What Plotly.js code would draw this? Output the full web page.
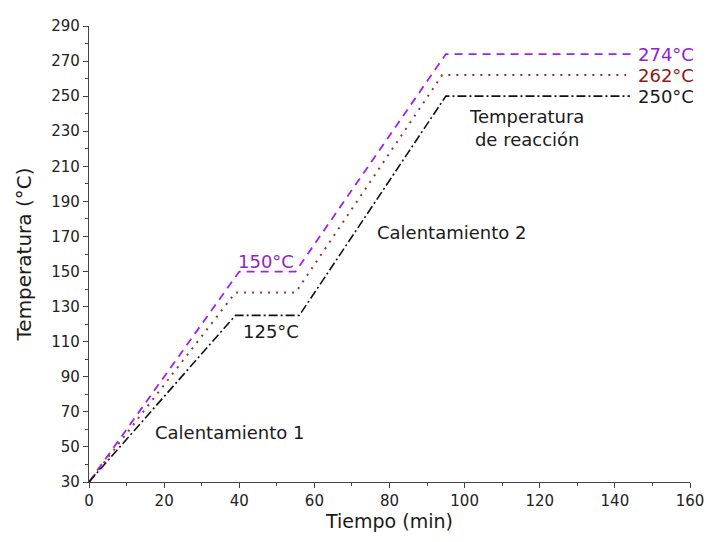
<!DOCTYPE html>
<html><head><meta charset="utf-8">
<script src="https://cdn.plot.ly/plotly-3.0.1.min.js"></script>
<style>body{margin:0;background:#fff}#c{width:707px;height:542px}</style>
</head><body><div id="c"></div>
<script>
const timeA = [0, 40, 55, 95, 145];
const tempA = [30, 150, 150, 274, 274];
const timeB = [0, 39, 55, 94, 143];
const tempB = [30, 138, 138, 262, 262];
const timeC = [0, 39, 56, 95, 144];
const tempC = [30, 125, 125, 250, 250];
const xTicks = [0, 20, 40, 60, 80, 100, 120, 140, 160];
const yTicks = [30, 50, 70, 90, 110, 130, 150, 170, 190, 210, 230, 250, 270, 290];
const notes = [
  {x: 47, y: 156, text: '150°C', color: '#8e24c8'},
  {x: 48.5, y: 116, text: '125°C', color: '#1a1a1a'},
  {x: 37.5, y: 58, text: 'Calentamiento 1', color: '#1a1a1a'},
  {x: 96.5, y: 172, text: 'Calentamiento 2', color: '#1a1a1a'},
  {x: 116.5, y: 232, text: 'Temperatura<br>de reacción', color: '#1a1a1a'},
  {x: 145.5, y: 274, text: '274°C', color: '#8e24c8', left: true},
  {x: 145.5, y: 262, text: '262°C', color: '#8b1a1a', left: true},
  {x: 145.5, y: 250, text: '250°C', color: '#1a1a1a', left: true}
];
const traces = [
  {x: timeA, y: tempA, mode: 'lines', line: {color: '#a020f0', width: 1.8, dash: '8px,6px'}},
  {x: timeB, y: tempB, mode: 'lines', line: {color: '#a0302a', width: 2, dash: '2px,6px'}},
  {x: timeC, y: tempC, mode: 'lines', line: {color: '#111', width: 1.6, dash: '9px,3px,2px,3px'}}
];
const fam = 'DejaVu Sans, Verdana, sans-serif';
const layout = {
  width: 707, height: 542,
  margin: {l: 89, r: 17, t: 26, b: 60},
  showlegend: false,
  paper_bgcolor: '#fff', plot_bgcolor: '#fff',
  font: {family: fam, color: '#1a1a1a'},
  xaxis: {
    range: [0, 160], tickvals: xTicks, ticktext: xTicks.map(String),
    showgrid: false, zeroline: false, showline: true, linecolor: '#444', linewidth: 1.2,
    ticks: 'outside', ticklen: 5, tickcolor: '#444', tickfont: {size: 15, color: '#222'},
    minor: {dtick: 10, tick0: 0, ticks: 'outside', ticklen: 3, tickcolor: '#444', showgrid: false},
    title: {text: 'Tiempo (min)', font: {size: 19, color: '#1a1a1a'}, standoff: 4}
  },
  yaxis: {
    range: [30, 290], tickvals: yTicks, ticktext: yTicks.map(String),
    showgrid: false, zeroline: false, showline: true, linecolor: '#444', linewidth: 1.2,
    ticks: 'outside', ticklen: 5, tickcolor: '#444', tickfont: {size: 15, color: '#222'},
    minor: {dtick: 10, tick0: 30, ticks: 'outside', ticklen: 3, tickcolor: '#444', showgrid: false},
    title: {text: 'Temperatura (°C)', font: {size: 20, color: '#1a1a1a'}, standoff: 14}
  },
  annotations: notes.map(n => ({
    x: n.x, y: n.y, xref: 'x', yref: 'y', text: n.text, showarrow: false,
    xanchor: n.left ? 'left' : 'center', yanchor: 'middle', align: 'center',
    font: {size: 18, color: n.color, family: fam}
  }))
};
Plotly.newPlot('c', traces, layout, {displayModeBar: false, staticPlot: true});
</script></body></html>
